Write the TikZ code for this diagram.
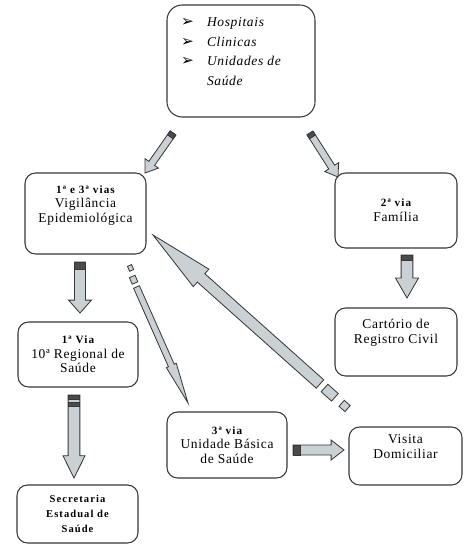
\documentclass[tikz,border=0pt]{standalone}
\usepackage{fontspec}
\setmainfont{Liberation Serif}
\newfontfamily\boxfont[LetterSpace=5]{Liberation Serif}
\newfontfamily\headfont[LetterSpace=10]{Liberation Serif}
\newfontfamily\symfont{DejaVu Sans}
\usetikzlibrary{calc}
\definecolor{EdgeGray}{RGB}{55,55,55}
\definecolor{ArrowFill}{RGB}{202,209,213}
\definecolor{StripeDark}{RGB}{75,75,75}

\newcommand\vialabel[1]{{\headfont\bfseries\fontsize{9.5}{10}\selectfont #1}}
\newcommand\bul{\makebox[22pt][l]{\symfont\upshape\fontsize{13}{10}\selectfont ➢}}
% block arrow: tail, tip, half shaft, half head, head length
\newcommand\blockarrow[6][]{%
  \coordinate (ba) at ($(#3)!#6!(#2)$);
  \draw[barrow,#1] ($(#2)!#4!90:(#3)$) -- ($(ba)!#4!-90:(#2)$) -- ($(ba)!#5!-90:(#2)$)
    -- (#3) -- ($(ba)!#5!90:(#2)$) -- ($(ba)!#4!90:(#2)$) -- ($(#2)!#4!-90:(#3)$) -- cycle;}
% straight piece between two points
\newcommand\arrowseg[4][]{%
  \draw[barrow,#1] ($(#2)!#4!90:(#3)$) -- ($(#3)!#4!-90:(#2)$)
    -- ($(#3)!#4!90:(#2)$) -- ($(#2)!#4!-90:(#3)$) -- cycle;}

\begin{document}
\begin{tikzpicture}[x=0.03cm,y=-0.03cm,
    box/.style={draw=EdgeGray,line width=0.9pt,rounded corners=9pt,align=center,
                inner sep=2pt,font=\boxfont\fontsize{11.5}{12.5}\selectfont},
    barrow/.style={draw=EdgeGray,line width=0.7pt,fill=ArrowFill,line join=miter},
    band/.style={fill=StripeDark}]
  \useasboundingbox (0,0) rectangle (463,545);

  \node[box,minimum width=4.44cm,minimum height=3.36cm,rounded corners=13pt] (top) at (241,61) {};
  \node[anchor=north west,align=left,inner sep=0pt,
        font=\boxfont\itshape\fontsize{11.5}{17}\selectfont] (toplist) at (181,17)
    {\bul Hospitais\\
     \bul Clinicas\\
     \bul Unidades de\\
     \hspace*{22pt}Saúde};

  \node[box,minimum width=3.63cm,minimum height=2.43cm] (vig) at (85.5,213.5)
    {\vialabel{1ª e 3ª vias}\\Vigilância\\Epidemiológica\\[4pt]};
  \node[box,minimum width=3.66cm,minimum height=2.25cm] (fam) at (396,210.5)
    {\vialabel{2ª via}\\Família};
  \node[box,minimum width=3.66cm,minimum height=2.04cm] (cart) at (396,342)
    {Cartório de\\Registro Civil\\[6pt]};
  \node[box,minimum width=3.6cm,minimum height=1.95cm] (reg) at (78,354.5)
    {\vialabel{1ª Via}\\10ª Regional de\\Saúde};
  \node[box,minimum width=3.63cm,minimum height=1.74cm,
        font=\headfont\bfseries\fontsize{9}{12.5}\selectfont] (sec) at (77.5,514)
    {Secretaria\\Estadual de\\Saúde};
  \node[box,minimum width=3.6cm,minimum height=1.98cm] (ubs) at (227,445)
    {\vialabel{3ª via}\\Unidade Básica\\de Saúde};
  \node[box,minimum width=3.39cm,minimum height=1.74cm] (vis) at (405.5,456)
    {Visita\\Domiciliar\\[4pt]};

  % arrow ends
  \coordinate (t1) at (173,133);   \coordinate (h1) at (145,173);
  \coordinate (t2) at (310,133);   \coordinate (h2) at (338,177);
  \coordinate (t3) at (80,262);    \coordinate (h3) at (80,313);
  \coordinate (t4) at (74,395);    \coordinate (h4) at (74,478);
  \coordinate (t5) at (407,255);   \coordinate (h5) at (407,298);
  \coordinate (t6) at (136.5,287); \coordinate (h6) at (188,403);
  \coordinate (t7) at (320,384);   \coordinate (h7) at (153,235);
  \coordinate (t8) at (293,450);   \coordinate (h8) at (344,450);

  \blockarrow{t1}{h1}{3pt}{7pt}{10pt}
  \blockarrow{t2}{h2}{3pt}{7pt}{10pt}
  \blockarrow{t3}{h3}{4.7pt}{9.8pt}{11pt}
  \blockarrow{t4}{h4}{5pt}{9.4pt}{19pt}
  \blockarrow{t5}{h5}{5pt}{9.8pt}{17pt}
  \blockarrow{t6}{h6}{2.7pt}{4.6pt}{35pt}
  \blockarrow{t7}{h7}{4.8pt}{10pt}{55pt}
  \blockarrow{t8}{h8}{4.3pt}{8.5pt}{11pt}

  % dark bands at the tails
  \coordinate (b1) at ($(t1)!4pt!(h1)$); \arrowseg[band]{t1}{b1}{3pt}
  \coordinate (b2) at ($(t2)!4pt!(h2)$); \arrowseg[band]{t2}{b2}{3pt}
  \coordinate (b3) at ($(t3)!6pt!(h3)$); \arrowseg[band]{t3}{b3}{4.7pt}
  \coordinate (b4) at ($(t4)!4pt!(h4)$); \arrowseg[band]{t4}{b4}{5pt}
  \coordinate (c4) at ($(t4)!6.5pt!(h4)$); \coordinate (d4) at ($(t4)!10pt!(h4)$);
  \arrowseg[band]{c4}{d4}{5pt}
  \coordinate (b5) at ($(t5)!5pt!(h5)$); \arrowseg[band]{t5}{b5}{5pt}
  \coordinate (b8) at ($(t8)!6pt!(h8)$); \arrowseg[band]{t8}{b8}{4.3pt}

  % loose squares behind the long arrows
  \coordinate (q6a) at (129.5,265.5); \coordinate (q6b) at (131.7,270.4);
  \coordinate (q6c) at (132.2,276.5); \coordinate (q6d) at (135,283);
  \arrowseg{q6a}{q6b}{1.9pt}
  \arrowseg{q6c}{q6d}{2.6pt}
  \coordinate (q7a) at (324.5,388); \coordinate (q7b) at (334.9,397.3);
  \coordinate (q7c) at (341.6,403.3); \coordinate (q7d) at (347.6,408.6);
  \arrowseg{q7a}{q7b}{4.3pt}
  \arrowseg{q7c}{q7d}{3.4pt}
\end{tikzpicture}
\end{document}
